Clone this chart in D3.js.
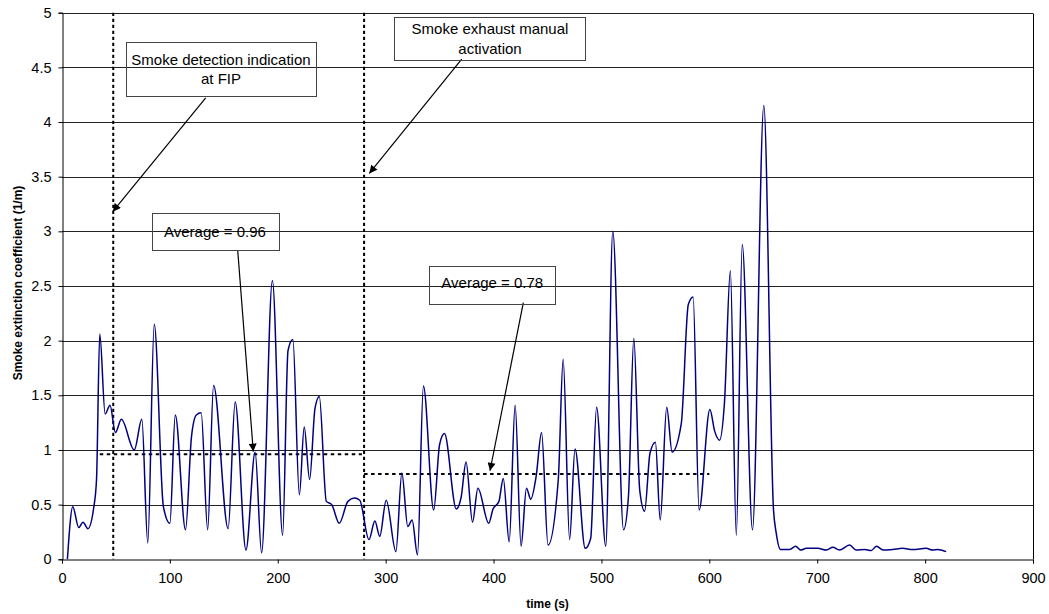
<!DOCTYPE html>
<html>
<head>
<meta charset="utf-8">
<script src="https://cdn.jsdelivr.net/npm/d3@7"></script>
<style>
  body { margin: 0; background: #fff; }
  svg { display: block; font-family: "Liberation Sans", Arial, sans-serif; }
</style>
</head>
<body>
<svg id="chart"></svg>
<script>
/// data ///
const time = [5, 10, 15.5, 19.5, 24, 29.5, 32, 35, 40, 44.5, 49.5, 55, 67, 74, 79.5, 85.5, 94, 100, 105, 114.5,
  120, 124.5, 129, 135, 140.5, 154, 160.5, 170.5, 179, 185, 195, 204.5, 209.5, 214, 220, 224.5, 229.5, 234.5, 238.5, 245,
  250, 257, 265, 271, 276, 284.5, 290, 294.5, 300.5, 309.5, 315, 320.5, 324.5, 329.5, 335, 344.5, 350, 354.5, 365.5, 370,
  374.5, 380.5, 385.5, 395.5, 399.5, 405, 409, 414.5, 420, 425.5, 430.5, 434.5, 439.5, 444.5, 450.5, 460, 464.5, 470.5, 475.5, 485,
  490, 495.5, 504, 510.5, 520.5, 525, 530, 535.5, 540, 545, 550, 554.5, 560.5, 565.5, 574, 580.5, 585, 590.5, 600.5, 605,
  609.5, 614, 619.5, 625, 630.5, 640, 650.5, 659.5, 662, 666, 674.5, 680, 684.5, 690, 700.5, 708.5, 714.5, 720.5, 730, 736,
  744, 750, 755, 761, 770, 779, 788.5, 801, 807, 811.5, 819.5]
const extinction = [0, 0.48, 0.29, 0.34, 0.28, 0.48, 0.73, 2.06, 1.33, 1.41, 1.16, 1.28, 1.0, 1.28, 0.15, 2.15, 0.48, 0.33, 1.32, 0.27,
  1.12, 1.32, 1.34, 0.27, 1.59, 0.28, 1.44, 0.085, 0.98, 0.06, 2.55, 0.22, 1.91, 2.01, 0.59, 1.21, 0.73, 1.38, 1.49, 0.53,
  0.5, 0.33, 0.53, 0.56, 0.54, 0.18, 0.35, 0.21, 0.54, 0.07, 0.79, 0.3, 0.36, 0.04, 1.585, 0.45, 1.05, 1.15, 0.46, 0.57,
  0.89, 0.34, 0.65, 0.33, 0.46, 0.53, 0.74, 0.16, 1.41, 0.12, 0.65, 0.55, 0.76, 1.16, 0.13, 0.73, 1.83, 0.18, 1.01, 0.1,
  0.19, 1.39, 0.12, 3.0, 0.27, 0.57, 2.02, 0.63, 0.44, 0.97, 1.07, 0.36, 1.39, 0.98, 1.24, 2.33, 2.4, 0.45, 1.37, 1.17,
  1.09, 1.43, 2.64, 0.22, 2.88, 0.27, 4.15, 0.45, 0.24, 0.09, 0.09, 0.12, 0.085, 0.1, 0.1, 0.085, 0.11, 0.085, 0.13, 0.085,
  0.09, 0.08, 0.12, 0.085, 0.09, 0.1, 0.09, 0.1, 0.085, 0.09, 0.07]

const xTicks = [0, 100, 200, 300, 400, 500, 600, 700, 800, 900]
const yTicks = [0, 0.5, 1, 1.5, 2, 2.5, 3, 3.5, 4, 4.5, 5]

// event lines (s)
const eventTimes = [47.5, 280]
// average segments
const avgFrom = [35, 280]
const avgTo = [278, 600]
const avgValue = [0.96, 0.78]

// callouts: box in data units [t0, t1, v0, v1], arrow [t, v] -> [t, v]
const calloutText = [["Smoke detection indication", "at FIP"], ["Average = 0.96"], ["Smoke exhaust manual", "activation"], ["Average = 0.78"]]
const calloutBox = [[59.3, 235.4, 4.73, 4.24], [83.1, 200.5, 3.166, 2.83], [308, 485.4, 4.964, 4.575], [340.4, 457.2, 2.686, 2.342]]
const calloutArrow = [[133.2, 4.22, 47, 3.18], [162.9, 2.823, 177.3, 0.985], [370.5, 4.575, 284.8, 3.53], [427.6, 2.348, 396.7, 0.81]]

/// dimensions ///
const width = 1049
const height = 614
const margin = {top: 12.7, right: 16, bottom: 54.7, left: 62}
const calloutPad = [22.3, 23.4, 17.6, 22.7]

const svg = d3.select("#chart")
  .attr("width", width)
  .attr("height", height)

/// scales ///
const x = d3.scaleLinear().domain([0, 900]).range([margin.left, width - margin.right])
const y = d3.scaleLinear().domain([0, 5]).range([height - margin.bottom, margin.top])

// grid
svg.append("g")
  .selectAll("line")
  .data(yTicks.slice(1))
  .join("line")
    .attr("x1", x(0)).attr("x2", x(900))
    .attr("y1", d => Math.round(y(d)) + 0.5).attr("y2", d => Math.round(y(d)) + 0.5)
    .attr("stroke", "#222").attr("stroke-width", 1)

// plot border (right side)
svg.append("line")
  .attr("x1", Math.round(x(900)) + 0.5).attr("x2", Math.round(x(900)) + 0.5)
  .attr("y1", Math.round(y(5)) + 0.5).attr("y2", y(0))
  .attr("stroke", "#000")

/// axes ///
const xAxis = g => g
  .attr("transform", `translate(0,${Math.round(y(0)) + 0.5})`)
  .call(d3.axisBottom(x).tickValues(xTicks).tickSize(4).tickPadding(9))
  .call(g => g.selectAll("text").attr("font-size", 14.5).attr("fill", "#000").attr("font-family", "Liberation Sans, Arial"))

const yAxis = g => g
  .attr("transform", `translate(${Math.round(x(0)) + 0.5},0)`)
  .call(d3.axisLeft(y).tickValues(yTicks).tickFormat(d3.format("")).tickSize(4).tickPadding(7))
  .call(g => g.selectAll("text").attr("font-size", 14.5).attr("fill", "#000").attr("font-family", "Liberation Sans, Arial"))

svg.append("g").call(xAxis)
svg.append("g").call(yAxis)

// axis titles
svg.append("text")
  .attr("x", (x(0) + x(900)) / 2)
  .attr("y", 608)
  .attr("text-anchor", "middle")
  .attr("font-size", 12)
  .attr("font-weight", "bold")
  .text("time (s)")

svg.append("text")
  .attr("transform", `translate(21.5,${(y(0) + y(5)) / 2 - 3}) rotate(-90)`)
  .attr("text-anchor", "middle")
  .attr("font-size", 12)
  .attr("font-weight", "bold")
  .text("Smoke extinction coefficient (1/m)")

/// event and average lines ///
svg.append("g")
  .selectAll("line")
  .data(eventTimes)
  .join("line")
    .attr("x1", d => x(d)).attr("x2", d => x(d))
    .attr("y1", y(5)).attr("y2", y(0))
    .attr("stroke", "#000").attr("stroke-width", 2).attr("stroke-dasharray", "3.3,2.7")

svg.append("g")
  .selectAll("line")
  .data(avgValue)
  .join("line")
    .attr("x1", (d, i) => x(avgFrom[i])).attr("x2", (d, i) => x(avgTo[i]))
    .attr("y1", d => y(d)).attr("y2", d => y(d))
    .attr("stroke", "#000").attr("stroke-width", 2).attr("stroke-dasharray", "3.5,3.5")

/// series ///
const data = time.map((t, i) => ({t, v: extinction[i]}))
const line = d3.line()
  .x(d => x(d.t))
  .y(d => y(d.v))
  .curve(d3.curveMonotoneX)

svg.append("path")
  .datum(data)
  .attr("fill", "none")
  .attr("stroke", "#000080")
  .attr("stroke-width", 1.5)
  .attr("d", line)

/// callouts (boxes are transparent, grid shows through) ///
svg.append("defs").append("marker")
  .attr("id", "arrow")
  .attr("viewBox", "0 0 10 10")
  .attr("refX", 10).attr("refY", 5)
  .attr("markerWidth", 9).attr("markerHeight", 8)
  .attr("markerUnits", "userSpaceOnUse")
  .attr("orient", "auto")
  .append("path")
    .attr("d", "M0,0L10,5L0,10z")
    .attr("fill", "#000")

calloutText.forEach((lines, i) => {
  const [t0, t1, v0, v1] = calloutBox[i]
  const [fa, fv, ta, tv] = calloutArrow[i]
  svg.append("line")
    .attr("x1", x(fa)).attr("y1", y(fv))
    .attr("x2", x(ta)).attr("y2", y(tv))
    .attr("stroke", "#000").attr("stroke-width", 1.2)
    .attr("marker-end", "url(#arrow)")
  svg.append("rect")
    .attr("x", Math.round(x(t0)) + 0.5).attr("y", Math.round(y(v0)) + 0.5)
    .attr("width", Math.round(x(t1) - x(t0))).attr("height", Math.round(y(v1) - y(v0)))
    .attr("fill", "none").attr("stroke", "#444").attr("stroke-width", 1)
  const cx = (x(t0) + x(t1)) / 2
  const top = y(v0)
  svg.append("text")
    .attr("text-anchor", "middle")
    .attr("font-size", 15)
    .selectAll("tspan")
    .data(lines)
    .join("tspan")
      .attr("x", cx)
      .attr("y", (d, j) => top + calloutPad[i] + j * 19.5)
      .text(d => d)
})
</script>
</body>
</html>
